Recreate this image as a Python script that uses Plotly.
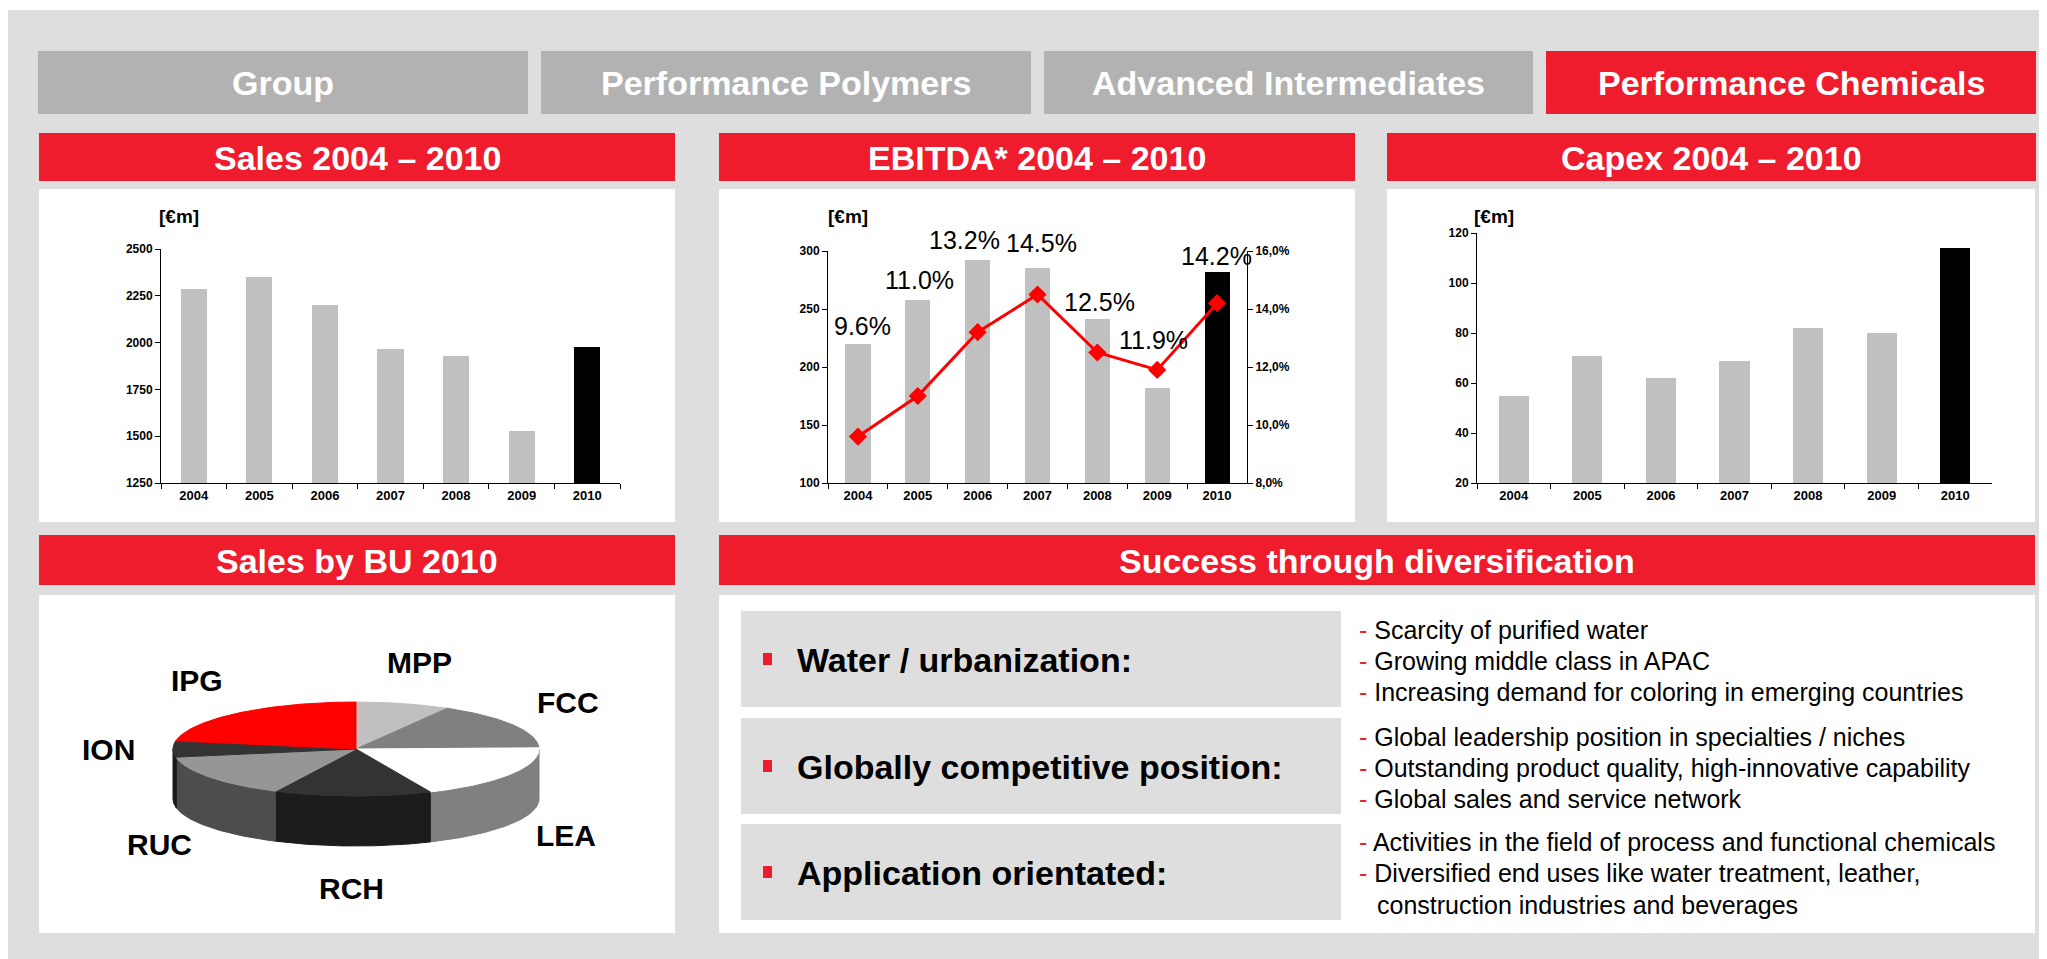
import numpy as np
import plotly.graph_objects as go

# ---------------- data ----------------
YEARS = ["2004", "2005", "2006", "2007", "2008", "2009", "2010"]
SALES = [2288, 2352, 2203, 1968, 1930, 1530, 1978]
EBITDA = [220, 258, 292, 285, 241, 182, 282]
EBITDA_MARGIN = [9.6, 11.0, 13.2, 14.5, 12.5, 11.9, 14.2]
MARGIN_LABELS = ["9.6%", "11.0%", "13.2%", "14.5%", "12.5%", "11.9%", "14.2%"]
CAPEX = [55, 71, 62, 69, 82, 80, 114]

TABS = ["Group", "Performance Polymers", "Advanced Intermediates", "Performance Chemicals"]
ACTIVE_TAB = "Performance Chemicals"

BU_NAMES = ["MPP", "FCC", "LEA", "RCH", "RUC", "ION", "IPG"]
BU_SHARE = [8.3, 16.1, 18.9, 13.9, 14.7, 5.8, 22.2]

DRIVERS = ["Water / urbanization:", "Globally competitive position:", "Application orientated:"]
DRIVER_POINTS = [
    ["Scarcity of purified water", "Growing middle class in APAC",
     "Increasing demand for coloring in emerging countries"],
    ["Global leadership position in specialties / niches",
     "Outstanding product quality, high-innovative capability",
     "Global sales and service network"],
    ["Activities in the field of process and functional chemicals",
     "Diversified end uses like water treatment, leather,",
     "construction industries and beverages"],
]
POINT_HAS_DASH = [[True, True, True], [True, True, True], [True, True, False]]

# ---------------- style ----------------
PAGE_W, PAGE_H = 2047, 959
OFF = 8  # default body margin of the page
W, H = PAGE_W - OFF, PAGE_H - OFF
FONT = "Liberation Sans, Arial, Helvetica, sans-serif"
RED = "#ee1c2d"
TAB_GRAY = "#b2b2b2"
BG_GRAY = "#dedede"
BAR_GRAY = "#c0c0c0"
PIE_TOP = ["#c0c0c0", "#808080", "#ffffff", "#333333", "#969696", "#333333", "#ff0000"]
PIE_SIDE = ["#8c8c8c", "#5a5a5a", "#808080", "#1c1c1c", "#4d4d4d", "#1a1a1a", "#b30000"]
LABEL_NUDGE_Y = [18, 20, 20, 25, 17, 48, 16]
LABEL_NUDGE_X = [5, 2, -13, 4, 2, -4, -1]


def fx(x):
    return (x - OFF) / W


def fy(y):
    return 1 - (y - OFF) / H


shapes = []
annotations = []


def rect(x0, y0, x1, y1, color):
    shapes.append(dict(type="rect", xref="paper", yref="paper", x0=fx(x0), x1=fx(x1),
                       y0=fy(y1), y1=fy(y0), fillcolor=color, line=dict(width=0),
                       layer="below"))


def text(x, y, s, size, color="black", bold=False, xanchor="center", yanchor="middle"):
    annotations.append(dict(xref="paper", yref="paper", x=fx(x), y=fy(y), text=s,
                            showarrow=False, xanchor=xanchor, yanchor=yanchor,
                            font=dict(family=FONT, size=size, color=color,
                                      weight="bold" if bold else "normal")))


# background
rect(OFF, 10, PAGE_W, PAGE_H, BG_GRAY)

# tabs
tab_x = [(38, 528), (541, 1031), (1044, 1533), (1546, 2036)]
for (x0, x1), name in zip(tab_x, TABS):
    rect(x0, 51, x1, 114, RED if name == ACTIVE_TAB else TAB_GRAY)
    text((x0 + x1) / 2, 83, name, 34, "white", True)

# section headers & white panels
headers = [((39, 675), (133, 181), "Sales 2004 \u2013 2010"),
           ((719, 1355), (133, 181), "EBITDA* 2004 \u2013 2010"),
           ((1387, 2036), (133, 181), "Capex 2004 \u2013 2010"),
           ((39, 675), (535, 585), "Sales by BU 2010"),
           ((719, 2035), (535, 585), "Success through diversification")]
for (x0, x1), (y0, y1), t in headers:
    rect(x0, y0, x1, y1, RED)
    text((x0 + x1) / 2, (y0 + y1) / 2 + 1, t, 34, "white", True)

for x0, x1 in [(39, 675), (719, 1355), (1387, 2035)]:
    rect(x0, 189, x1, 522, "white")
rect(39, 595, 675, 933, "white")
rect(719, 595, 2035, 933, "white")

# unit labels
for cx in [179, 848, 1494]:
    text(cx, 217, "[\u20acm]", 19, "black", True)

fig = go.Figure()

bar_colors = [BAR_GRAY] * (len(YEARS) - 1) + ["black"]

fig.add_trace(go.Bar(x=YEARS, y=SALES, xaxis="x", yaxis="y",
                     marker=dict(color=bar_colors, line=dict(width=0)),
                     width=0.4, hoverinfo="skip"))
fig.add_trace(go.Bar(x=YEARS, y=EBITDA, xaxis="x2", yaxis="y2",
                     marker=dict(color=bar_colors, line=dict(width=0)),
                     width=0.42, hoverinfo="skip"))
fig.add_trace(go.Scatter(x=YEARS, y=EBITDA_MARGIN, xaxis="x2", yaxis="y3", mode="lines+markers",
                         line=dict(color="#ff0000", width=3),
                         marker=dict(symbol="diamond", size=14, color="#ff0000"), hoverinfo="skip"))
fig.add_trace(go.Bar(x=YEARS, y=CAPEX, xaxis="x3", yaxis="y4",
                     marker=dict(color=bar_colors, line=dict(width=0)),
                     width=0.41, hoverinfo="skip"))

for i, (lab, val) in enumerate(zip(MARGIN_LABELS, EBITDA)):
    annotations.append(dict(xref="x2", yref="y2", x=i, y=val, text=lab, showarrow=False,
                            yanchor="middle", xanchor="center", yshift=LABEL_NUDGE_Y[i],
                            xshift=LABEL_NUDGE_X[i],
                            font=dict(family=FONT, size=25, color="black")))

# ---------------- 3D-style pie ----------------
RX, RY, DEPTH = 183, 47, 50
shares = np.array(BU_SHARE, dtype=float)
edges = np.concatenate([[0], np.cumsum(shares)]) / shares.sum() * 360.0

for i in range(len(BU_NAMES)):
    a, b = max(edges[i], 90), min(edges[i + 1], 270)
    if b > a:
        t = np.radians(np.linspace(a, b, 60))
        xs = RX * np.sin(t)
        ys = RY * np.cos(t)
        px = np.concatenate([xs, xs[::-1], xs[:1]])
        py = np.concatenate([ys, ys[::-1] - DEPTH, ys[:1]])
        fig.add_trace(go.Scatter(x=px, y=py, xaxis="x4", yaxis="y5", mode="lines", fill="toself",
                                 fillcolor=PIE_SIDE[i], line=dict(color=PIE_SIDE[i], width=1),
                                 hoverinfo="skip"))

for i in range(len(BU_NAMES)):
    t = np.radians(np.linspace(edges[i], edges[i + 1], 100))
    px = np.concatenate([[0], RX * np.sin(t), [0]])
    py = np.concatenate([[0], RY * np.cos(t), [0]])
    fig.add_trace(go.Scatter(x=px, y=py, xaxis="x4", yaxis="y5", mode="lines", fill="toself",
                             fillcolor=PIE_TOP[i], line=dict(color=PIE_TOP[i], width=1),
                             hoverinfo="skip"))
    mid = np.radians((edges[i] + edges[i + 1]) / 2)
    c = np.cos(mid)
    lx = 1.35 * RX * np.sin(mid)
    ly = 1.9 * RY * c - (DEPTH * (-c) ** 0.4 if c < -0.3 else 0)
    annotations.append(dict(xref="x4", yref="y5", x=lx, y=ly, text=BU_NAMES[i], showarrow=False,
                            font=dict(family=FONT, size=30, color="black", weight="bold")))

# ---------------- success panel ----------------
box_y = [(611, 707), (718, 814), (824, 920)]
line_y = [[630, 661, 692], [737, 768, 799], [842, 873, 905]]
for k, (y0, y1) in enumerate(box_y):
    rect(741, y0, 1341, y1, BG_GRAY)
    cy = (y0 + y1) / 2
    rect(763, cy - 6, 772, cy + 6, RED)
    text(795, cy + 1, DRIVERS[k], 34, "black", True, xanchor="left")
    for j, s in enumerate(DRIVER_POINTS[k]):
        if POINT_HAS_DASH[k][j]:
            text(1357, line_y[k][j], "<span style='color:%s'>-</span> %s" % (RED, s), 25,
                 "black", False, xanchor="left")
        else:
            text(1375, line_y[k][j], s, 25, "black", False, xanchor="left")

# ---------------- axes ----------------
ytick_font = dict(family=FONT, size=12, color="black", weight="bold")
xtick_font = dict(family=FONT, size=13, color="black", weight="bold")


def xcat(x0, x1, anchor):
    return dict(domain=[fx(x0), fx(x1)], anchor=anchor, type="category", range=[-0.5, 6.5],
                showline=True, linecolor="black", linewidth=1, ticks="outside", ticklen=5,
                tickcolor="black", tickson="boundaries", showgrid=False, tickfont=xtick_font,
                fixedrange=True, automargin=False)


def yval(y0, y1, anchor, rng, dtick, **kw):
    d = dict(domain=[fy(y1), fy(y0)], anchor=anchor, range=rng, dtick=dtick, showline=True,
             linecolor="black", linewidth=1, ticks="outside", ticklen=5, tickcolor="black",
             showgrid=False, zeroline=False, tickfont=ytick_font, fixedrange=True,
             automargin=False)
    d.update(kw)
    return d


layout = dict(
    template="none",
    width=W, height=H,
    margin=dict(l=0, r=0, t=0, b=0, pad=0, autoexpand=False),
    paper_bgcolor="white", plot_bgcolor="rgba(0,0,0,0)",
    showlegend=False, separators=",.", bargap=0,
    shapes=shapes, annotations=annotations,
    font=dict(family=FONT),
    xaxis=xcat(161, 620, "y"),
    yaxis=yval(249, 483, "x", [1250, 2500], 250),
    xaxis2=xcat(828, 1247, "y2"),
    yaxis2=yval(251, 483, "x2", [100, 300], 50),
    yaxis3=yval(251, 483, "x2", [8, 16], 2, overlaying="y2", side="right",
                tickformat=".1f", ticksuffix="%"),
    xaxis3=xcat(1477, 1992, "y4"),
    yaxis4=yval(233, 483, "x3", [20, 120], 20),
    xaxis4=dict(domain=[fx(39), fx(675)], anchor="y5", range=[-317, 319], visible=False,
                fixedrange=True, automargin=False),
    yaxis5=dict(domain=[fy(933), fy(595)], anchor="x4", range=[-184, 154], visible=False,
                fixedrange=True, automargin=False),
)
fig.update_layout(**layout)

fig.write_html("out.html", config={"displayModeBar": False})
